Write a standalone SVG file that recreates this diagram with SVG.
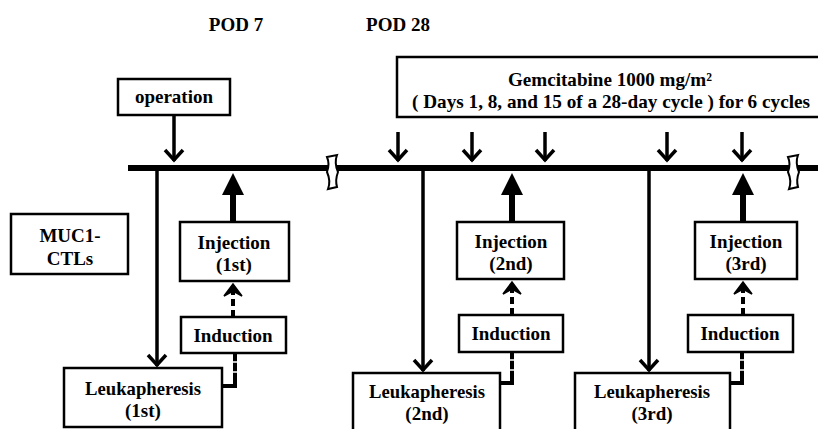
<svg xmlns="http://www.w3.org/2000/svg" width="818" height="429" viewBox="0 0 818 429">
<defs>
<style>
.box{fill:#fff;stroke:#000;stroke-width:2.5}
.t{font-family:"Liberation Serif","Times New Roman",serif;font-weight:bold;font-size:19px;text-anchor:middle;fill:#000}
.ln{stroke:#000;stroke-width:3.5;fill:none}
.thick{stroke:#000;stroke-width:6;fill:none}
.dash{stroke:#000;stroke-width:4;fill:none;stroke-dasharray:7 4}
.solid4{stroke:#000;stroke-width:4;fill:none}
.gap{stroke:#fff;stroke-width:1.5;fill:none}
.brk{fill:#fff;stroke:#000;stroke-width:2}
</style>
<marker id="vee" markerUnits="userSpaceOnUse" markerWidth="30" markerHeight="30" viewBox="-15 -15 30 30" refX="0" refY="0" orient="auto">
<path d="M-11,-9 L-1,0 L-11,9" fill="none" stroke="#000" stroke-width="3.5"/>
</marker>
<marker id="chev" markerUnits="userSpaceOnUse" markerWidth="30" markerHeight="30" viewBox="-15 -15 30 30" refX="0" refY="0" orient="auto">
<path d="M-12,-9 L0,0 L-12,9 L-7,0 Z" fill="#000" stroke="#000" stroke-width="1.5"/>
</marker>
</defs>
<rect width="818" height="429" fill="#fff"/>

<text class="t" x="236" y="31">POD 7</text>
<text class="t" x="398" y="31">POD 28</text>

<g id="connectors">
<line class="thick" x1="128" y1="168" x2="818" y2="168"/>
<line class="ln" x1="174" y1="115" x2="174" y2="161" marker-end="url(#vee)"/>
<line class="ln" x1="398" y1="132" x2="398" y2="161" marker-end="url(#vee)"/>
<line class="ln" x1="472" y1="132" x2="472" y2="161" marker-end="url(#vee)"/>
<line class="ln" x1="545" y1="132" x2="545" y2="161" marker-end="url(#vee)"/>
<line class="ln" x1="667" y1="132" x2="667" y2="161" marker-end="url(#vee)"/>
<line class="ln" x1="742" y1="132" x2="742" y2="161" marker-end="url(#vee)"/>
<line class="ln" x1="157" y1="168" x2="157" y2="366" marker-end="url(#vee)"/>
<line class="ln" x1="423" y1="168" x2="423" y2="371" marker-end="url(#vee)"/>
<line class="ln" x1="649" y1="168" x2="649" y2="371" marker-end="url(#vee)"/>
<g fill="#000">
<rect x="230" y="190" width="6" height="33"/>
<path d="M222,195 L233,173 L244,195 Z"/>
<rect x="509" y="190" width="6" height="33"/>
<path d="M501,195 L512,173 L523,195 Z"/>
<rect x="740" y="190" width="6" height="33"/>
<path d="M732,195 L743,173 L754,195 Z"/>
</g>
<line class="dash" x1="233" y1="317" x2="233" y2="284" marker-end="url(#chev)"/>
<line class="dash" x1="512" y1="315" x2="512" y2="282" marker-end="url(#chev)"/>
<line class="dash" x1="743" y1="315" x2="743" y2="282" marker-end="url(#chev)"/>
<path class="solid4" d="M222,386 H235 V354"/>
<path class="gap" d="M231,362 H239 M231,372 H239"/>
<path class="solid4" d="M500,383 H512 V352"/>
<path class="gap" d="M508,360 H516 M508,370 H516"/>
<path class="solid4" d="M730,383 H742 V352"/>
<path class="gap" d="M738,360 H746 M738,370 H746"/>
<path class="brk" d="M327,157 L337,155 Q334,163 338,172 Q335,180 337,187 L328,189 Q331,181 327,172 Q330,164 327,157 Z"/>
<path class="brk" d="M788,157 L798,155 Q795,163 799,172 Q796,180 798,187 L789,189 Q792,181 788,172 Q791,164 788,157 Z"/>
</g>

<g id="operation">
<rect class="box" x="118" y="79" width="112" height="36"/>
<text class="t" x="174" y="103">operation</text>
</g>

<g id="gemcitabine">
<rect class="box" x="397" y="57" width="430" height="60"/>
<text class="t" x="610" y="86" textLength="204" lengthAdjust="spacingAndGlyphs">Gemcitabine 1000 mg/m²</text>
<text class="t" x="611" y="108" textLength="398" lengthAdjust="spacingAndGlyphs">( Days 1, 8, and 15 of  a 28-day cycle ) for 6 cycles</text>
</g>

<g id="muc1">
<rect class="box" x="11" y="214" width="117" height="60"/>
<text class="t" x="70" y="242">MUC1-</text>
<text class="t" x="70" y="265">CTLs</text>
</g>

<g id="injection1">
<rect class="box" x="180" y="222" width="109" height="59"/>
<text class="t" x="234" y="249">Injection</text>
<text class="t" x="234" y="271">(1st)</text>
</g>
<g id="induction1">
<rect class="box" x="181" y="317" width="105" height="36"/>
<text class="t" x="233" y="342">Induction</text>
</g>
<g id="leuk1">
<rect class="box" x="64" y="368" width="158" height="59"/>
<text class="t" x="143" y="395" textLength="116" lengthAdjust="spacingAndGlyphs">Leukapheresis</text>
<text class="t" x="143" y="417">(1st)</text>
</g>

<g id="injection2">
<rect class="box" x="457" y="222" width="107" height="57"/>
<text class="t" x="511" y="248">Injection</text>
<text class="t" x="511" y="270">(2nd)</text>
</g>
<g id="induction2">
<rect class="box" x="459" y="315" width="104" height="37"/>
<text class="t" x="511" y="340">Induction</text>
</g>
<g id="leuk2">
<rect class="box" x="353" y="373" width="147" height="60"/>
<text class="t" x="427" y="398" textLength="116" lengthAdjust="spacingAndGlyphs">Leukapheresis</text>
<text class="t" x="427" y="420">(2nd)</text>
</g>

<g id="injection3">
<rect class="box" x="695" y="222" width="102" height="57"/>
<text class="t" x="746" y="248">Injection</text>
<text class="t" x="746" y="270">(3rd)</text>
</g>
<g id="induction3">
<rect class="box" x="688" y="315" width="105" height="37"/>
<text class="t" x="740" y="340">Induction</text>
</g>
<g id="leuk3">
<rect class="box" x="575" y="373" width="155" height="60"/>
<text class="t" x="652" y="398" textLength="116" lengthAdjust="spacingAndGlyphs">Leukapheresis</text>
<text class="t" x="652" y="420">(3rd)</text>
</g>
</svg>
